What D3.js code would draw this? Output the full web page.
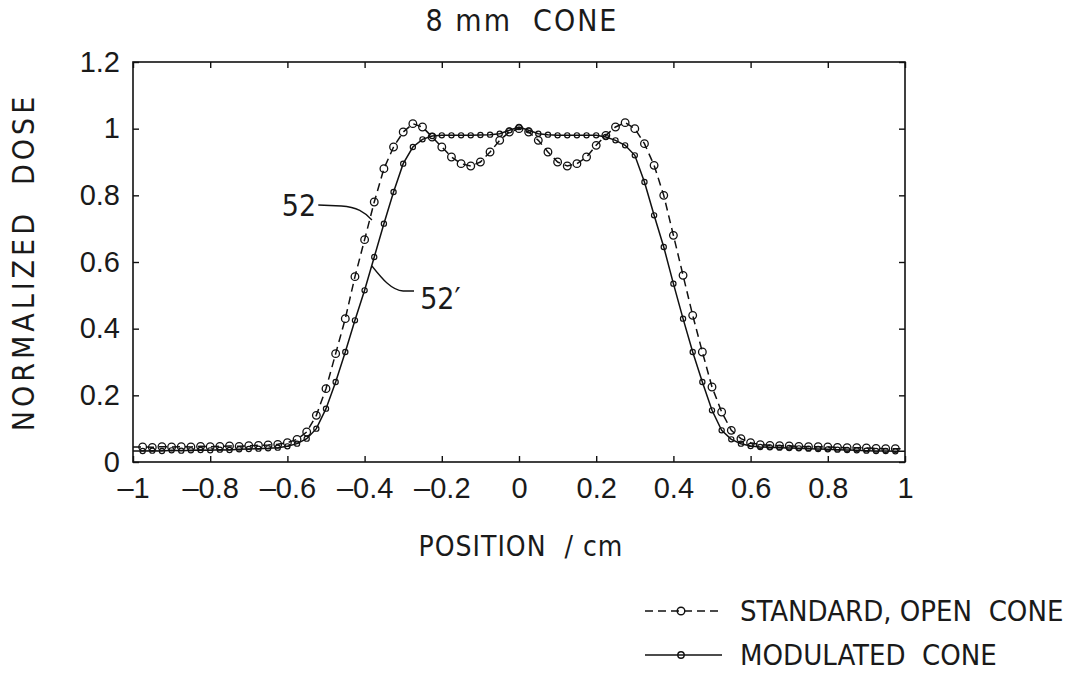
<!DOCTYPE html>
<html>
<head>
<meta charset="utf-8">
<script src="https://cdn.jsdelivr.net/npm/d3@7"></script>
<style>
  body { margin: 0; background: #fff; }
  svg text { font-family: "Liberation Sans Narrow", "DejaVu Sans Condensed", "Liberation Sans", sans-serif; fill: #1a1a1a; white-space: pre; }
</style>
</head>
<body>
<svg id="chart" width="1074" height="673"></svg>
<script>
// sample positions (cm)
const position = [
  -1, -0.975, -0.95, -0.925, -0.9, -0.875, -0.85, -0.825, -0.8, -0.775,
  -0.75, -0.725, -0.7, -0.675, -0.65, -0.625, -0.6, -0.575, -0.55, -0.525,
  -0.5, -0.475, -0.45, -0.425, -0.4, -0.375, -0.35, -0.325, -0.3, -0.275,
  -0.25, -0.225, -0.2, -0.175, -0.15, -0.125, -0.1, -0.075, -0.05, -0.025,
  0, 0.025, 0.05, 0.075, 0.1, 0.125, 0.15, 0.175, 0.2, 0.225,
  0.25, 0.275, 0.3, 0.325, 0.35, 0.375, 0.4, 0.425, 0.45, 0.475,
  0.5, 0.525, 0.55, 0.575, 0.6, 0.625, 0.65, 0.675, 0.7, 0.725,
  0.75, 0.775, 0.8, 0.825, 0.85, 0.875, 0.9, 0.925, 0.95, 0.975, 1
];

// 52: standard, open cone (dashed)
const standardDose = [
  0.045, 0.045, 0.044, 0.046, 0.045, 0.046, 0.045, 0.047, 0.046, 0.047,
  0.048, 0.047, 0.049, 0.05, 0.051, 0.053, 0.058, 0.068, 0.09, 0.14,
  0.22, 0.325, 0.43, 0.556, 0.667, 0.78, 0.88, 0.945, 0.99, 1.015,
  1.005, 0.975, 0.945, 0.915, 0.895, 0.888, 0.9, 0.93, 0.965, 0.99,
  1.0, 0.99, 0.965, 0.93, 0.9, 0.888, 0.895, 0.915, 0.95, 0.98,
  1.005, 1.018, 1.0, 0.955, 0.89, 0.8, 0.68, 0.56, 0.44, 0.33,
  0.225, 0.15, 0.095, 0.07, 0.058, 0.052, 0.05, 0.049, 0.048, 0.047,
  0.046, 0.046, 0.045, 0.044, 0.043, 0.043, 0.042, 0.041, 0.04, 0.04, 0.04
];

// 52': modulated cone (solid)
const modulatedDose = [
  0.033, 0.033, 0.034, 0.033, 0.035, 0.034, 0.035, 0.036, 0.035, 0.037,
  0.036, 0.038, 0.039, 0.04, 0.041, 0.043, 0.047, 0.055, 0.07, 0.1,
  0.16, 0.24, 0.33, 0.425, 0.515, 0.615, 0.715, 0.81, 0.895, 0.945,
  0.968, 0.978, 0.98, 0.98, 0.98, 0.98, 0.981, 0.982, 0.985, 0.995,
  1.005, 0.995, 0.985, 0.982, 0.98, 0.98, 0.98, 0.98, 0.98, 0.975,
  0.965, 0.95, 0.92, 0.84, 0.74, 0.645, 0.535, 0.43, 0.33, 0.24,
  0.155, 0.095, 0.068, 0.055, 0.048, 0.045, 0.044, 0.043, 0.042, 0.041,
  0.04, 0.039, 0.038, 0.037, 0.036, 0.035, 0.034, 0.033, 0.033, 0.032, 0.032
];

const xTicks = [-1, -0.8, -0.6, -0.4, -0.2, 0, 0.2, 0.4, 0.6, 0.8, 1];
const yTicks = [0, 0.2, 0.4, 0.6, 0.8, 1, 1.2];
const legendLabels = ["STANDARD, OPEN  CONE", "MODULATED  CONE"];

const svg = d3.select("#chart");
const plotLeft = 133, plotRight = 905, plotTop = 62, plotBottom = 462;

const x = d3.scaleLinear().domain([-1, 1]).range([plotLeft, plotRight]);
const y = d3.scaleLinear().domain([0, 1.2]).range([plotBottom, plotTop]);

const fmt = (d) => (d < 0 ? "\u2013" + Math.abs(d) : String(d));

// frame
svg.append("rect")
  .attr("x", plotLeft).attr("y", plotTop)
  .attr("width", plotRight - plotLeft).attr("height", plotBottom - plotTop)
  .attr("fill", "none").attr("stroke", "#111").attr("stroke-width", 1.6);

// axes, ticks pointing inward
svg.append("g").attr("transform", `translate(0,${plotBottom})`)
  .call(d3.axisBottom(x).tickValues(xTicks).tickFormat(fmt).tickSize(-6).tickPadding(15));
svg.append("g").attr("transform", `translate(${plotLeft},0)`)
  .call(d3.axisLeft(y).tickValues(yTicks).tickFormat(fmt).tickSize(-6).tickPadding(13));
svg.append("g").attr("transform", `translate(0,${plotTop})`)
  .call(d3.axisTop(x).tickValues(xTicks).tickFormat("").tickSize(-6));
svg.append("g").attr("transform", `translate(${plotRight},0)`)
  .call(d3.axisRight(y).tickValues(yTicks).tickFormat("").tickSize(-6));

svg.selectAll(".domain").remove();
svg.selectAll(".tick line").attr("stroke", "#111").attr("stroke-width", 1.4);
svg.selectAll(".tick text")
  .style("font-family", "'Liberation Sans', sans-serif")
  .style("font-size", "29px")
  .attr("fill", "#1a1a1a");

// titles
svg.append("text").attr("x", 522).attr("y", 31)
  .attr("text-anchor", "middle").style("font-size", "30px")
  .style("letter-spacing", "2px")
  .text("8 mm  CONE");
svg.append("text").attr("x", 521).attr("y", 556)
  .attr("text-anchor", "middle").style("font-size", "28px")
  .style("letter-spacing", "1px")
  .text("POSITION  / cm");
svg.append("text")
  .attr("transform", `translate(34,${(plotTop + plotBottom) / 2}) rotate(-90)`)
  .attr("text-anchor", "middle").style("font-size", "30px")
  .style("letter-spacing", "4px")
  .text("NORMALIZED  DOSE");

// curves
const standard = position.map((p, i) => ({ p, v: standardDose[i] }));
const modulated = position.map((p, i) => ({ p, v: modulatedDose[i] }));
const line = d3.line().x((d) => x(d.p)).y((d) => y(d.v));

svg.append("path").datum(standard)
  .attr("d", line).attr("fill", "none")
  .attr("stroke", "#111").attr("stroke-width", 1.5)
  .attr("stroke-dasharray", "8,5");
svg.append("path").datum(modulated)
  .attr("d", line).attr("fill", "none")
  .attr("stroke", "#111").attr("stroke-width", 1.5);

svg.append("g").selectAll("circle")
  .data(standard.filter((d) => Math.abs(d.p) < 1))
  .join("circle")
  .attr("cx", (d) => x(d.p)).attr("cy", (d) => y(d.v)).attr("r", 3.8)
  .attr("fill", "none").attr("stroke", "#111").attr("stroke-width", 1.3);
svg.append("g").selectAll("circle")
  .data(modulated.filter((d) => Math.abs(d.p) < 1))
  .join("circle")
  .attr("cx", (d) => x(d.p)).attr("cy", (d) => y(d.v)).attr("r", 2.6)
  .attr("fill", "none").attr("stroke", "#111").attr("stroke-width", 1.2);

// reference labels 52 and 52'
svg.append("text").attr("x", x(-0.57)).attr("y", y(0.771)).attr("dy", "0.36em")
  .attr("text-anchor", "middle").style("font-size", "30px").text("52");
svg.append("path")
  .attr("d", `M${x(-0.52)},${y(0.771)} L${x(-0.46)},${y(0.768)} C${x(-0.42)},${y(0.765)} ${x(-0.4)},${y(0.75)} ${x(-0.381)},${y(0.726)}`)
  .attr("fill", "none").attr("stroke", "#111").attr("stroke-width", 1.3);
svg.append("text").attr("x", x(-0.256)).attr("y", y(0.492)).attr("dy", "0.36em")
  .style("font-size", "30px").text("52\u2032");
svg.append("path")
  .attr("d", `M${x(-0.381)},${y(0.588)} C${x(-0.355)},${y(0.55)} ${x(-0.33)},${y(0.515)} ${x(-0.3)},${y(0.513)} L${x(-0.272)},${y(0.513)}`)
  .attr("fill", "none").attr("stroke", "#111").attr("stroke-width", 1.3);

// legend
const legend = svg.append("g");
legendLabels.forEach((label, i) => {
  const ly = 611 + i * 44;
  legend.append("line")
    .attr("x1", 645).attr("x2", 722).attr("y1", ly).attr("y2", ly)
    .attr("stroke", "#111").attr("stroke-width", 1.5)
    .attr("stroke-dasharray", i === 0 ? "8,5" : null);
  legend.append("circle")
    .attr("cx", 681).attr("cy", ly).attr("r", i === 0 ? 3.8 : 3.2)
    .attr("fill", "none").attr("stroke", "#111").attr("stroke-width", 1.4);
  legend.append("text")
    .attr("x", 740).attr("y", ly).attr("dy", "0.36em")
    .style("font-size", "29px")
    .text(label);
});
</script>
</body>
</html>
